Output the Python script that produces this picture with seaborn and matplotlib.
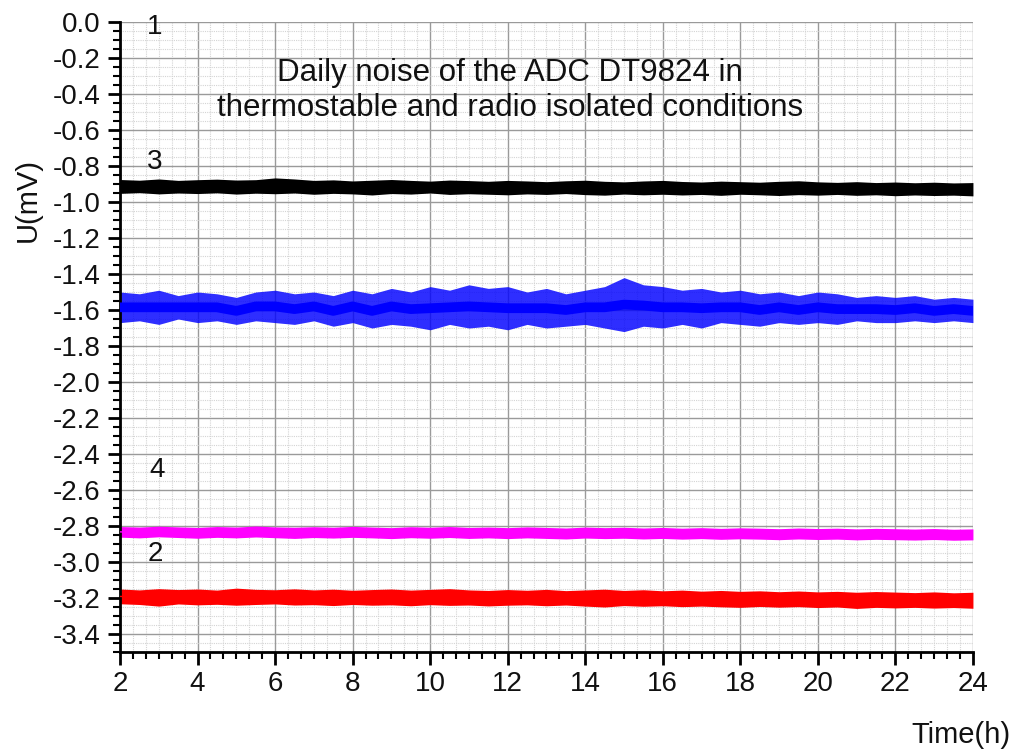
import numpy as np
import pandas as pd
import matplotlib
matplotlib.use("Agg")
import matplotlib.pyplot as plt
from matplotlib.ticker import AutoMinorLocator, FormatStrFormatter
import seaborn as sns

# ---------------- data ----------------
TIME_H = [2.0, 2.5, 3.0, 3.5, 4.0, 4.5, 5.0, 5.5, 6.0, 6.5,
          7.0, 7.5, 8.0, 8.5, 9.0, 9.5, 10.0, 10.5, 11.0, 11.5,
          12.0, 12.5, 13.0, 13.5, 14.0, 14.5, 15.0, 15.5, 16.0, 16.5,
          17.0, 17.5, 18.0, 18.5, 19.0, 19.5, 20.0, 20.5, 21.0, 21.5,
          22.0, 22.5, 23.0, 23.5, 24.0]

# curve 3 (black): upper / lower envelope of the noise band, mV
S3_TOP = [-0.875, -0.879, -0.872, -0.880, -0.876, -0.873, -0.878, -0.876, -0.866, -0.872,
          -0.880, -0.877, -0.883, -0.879, -0.875, -0.880, -0.884, -0.878, -0.881, -0.885,
          -0.880, -0.883, -0.887, -0.882, -0.879, -0.885, -0.888, -0.883, -0.880, -0.886,
          -0.889, -0.884, -0.887, -0.890, -0.885, -0.882, -0.888, -0.891, -0.887, -0.892,
          -0.889, -0.893, -0.890, -0.894, -0.892]
S3_BOT = [-0.952, -0.948, -0.955, -0.950, -0.953, -0.949, -0.956, -0.951, -0.954, -0.950,
          -0.957, -0.952, -0.955, -0.961, -0.953, -0.956, -0.950, -0.958, -0.954, -0.957,
          -0.960, -0.955, -0.958, -0.953, -0.959, -0.962, -0.956, -0.960, -0.957, -0.961,
          -0.958, -0.963, -0.957, -0.960, -0.964, -0.959, -0.962, -0.958, -0.963, -0.960,
          -0.965, -0.961, -0.964, -0.962, -0.966]

# blue curve (unnumbered)
SB_TOP = [-1.50, -1.51, -1.49, -1.52, -1.50, -1.51, -1.53, -1.50, -1.49, -1.51,
          -1.50, -1.52, -1.49, -1.51, -1.48, -1.50, -1.47, -1.49, -1.46, -1.48,
          -1.47, -1.50, -1.48, -1.51, -1.49, -1.47, -1.42, -1.46, -1.47, -1.49,
          -1.48, -1.50, -1.49, -1.51, -1.50, -1.52, -1.50, -1.51, -1.53, -1.52,
          -1.53, -1.52, -1.54, -1.53, -1.54]
SB_BOT = [-1.67, -1.66, -1.68, -1.65, -1.67, -1.66, -1.68, -1.66, -1.67, -1.68,
          -1.66, -1.69, -1.67, -1.70, -1.68, -1.69, -1.71, -1.68, -1.70, -1.69,
          -1.71, -1.68, -1.70, -1.69, -1.68, -1.70, -1.72, -1.69, -1.70, -1.68,
          -1.70, -1.67, -1.68, -1.69, -1.67, -1.68, -1.67, -1.68, -1.66, -1.67,
          -1.67, -1.66, -1.67, -1.66, -1.67]

# curve 4 (magenta)
S4_TOP = [-2.803, -2.806, -2.801, -2.805, -2.808, -2.803, -2.806, -2.800, -2.805, -2.807,
          -2.804, -2.807, -2.802, -2.806, -2.809, -2.804, -2.807, -2.803, -2.808, -2.806,
          -2.809, -2.805, -2.808, -2.811, -2.806, -2.809, -2.807, -2.811, -2.808, -2.812,
          -2.809, -2.813, -2.810, -2.812, -2.815, -2.811, -2.814, -2.812, -2.816, -2.813,
          -2.815, -2.817, -2.814, -2.818, -2.816]
S4_BOT = [-2.862, -2.866, -2.860, -2.864, -2.868, -2.863, -2.866, -2.861, -2.865, -2.869,
          -2.864, -2.867, -2.863, -2.866, -2.870, -2.865, -2.868, -2.864, -2.869, -2.866,
          -2.870, -2.866, -2.869, -2.872, -2.867, -2.870, -2.868, -2.872, -2.869, -2.873,
          -2.870, -2.874, -2.871, -2.873, -2.876, -2.872, -2.875, -2.873, -2.877, -2.874,
          -2.876, -2.878, -2.875, -2.879, -2.877]

# curve 2 (red)
S2_TOP = [-3.150, -3.155, -3.148, -3.153, -3.150, -3.156, -3.145, -3.152, -3.154, -3.149,
          -3.155, -3.151, -3.157, -3.153, -3.150, -3.156, -3.152, -3.148, -3.155, -3.158,
          -3.153, -3.157, -3.152, -3.159, -3.155, -3.151, -3.158, -3.154, -3.160, -3.156,
          -3.162, -3.158, -3.163, -3.160, -3.165, -3.161, -3.166, -3.163, -3.168, -3.164,
          -3.167, -3.170, -3.166, -3.171, -3.168]
S2_BOT = [-3.232, -3.236, -3.245, -3.233, -3.238, -3.235, -3.240, -3.236, -3.233, -3.239,
          -3.237, -3.242, -3.236, -3.240, -3.238, -3.243, -3.237, -3.241, -3.239, -3.244,
          -3.240, -3.238, -3.243, -3.239, -3.245, -3.250, -3.242, -3.246, -3.243, -3.248,
          -3.245, -3.249, -3.252, -3.247, -3.251, -3.248, -3.253, -3.250, -3.258, -3.252,
          -3.255, -3.252, -3.256, -3.253, -3.257]

X_TICKS = [2, 4, 6, 8, 10, 12, 14, 16, 18, 20, 22, 24]
Y_TICKS = [0.0, -0.2, -0.4, -0.6, -0.8, -1.0, -1.2, -1.4, -1.6, -1.8, -2.0,
           -2.2, -2.4, -2.6, -2.8, -3.0, -3.2, -3.4]

TITLE_LINES = ["Daily noise of the ADC DT9824 in",
               "thermostable and radio isolated conditions"]
CURVE_LABELS = ["1", "3", "4", "2"]

# ---------------- figure ----------------
sns.set_theme(style="white")
plt.rcParams["font.family"] = ["Liberation Sans", "DejaVu Sans"]
plt.rcParams["axes.unicode_minus"] = False

fig = plt.figure(figsize=(10.19, 7.51), dpi=100)
ax = fig.add_axes([0.1178, 0.1318, 0.8370, 0.8389])

series = [
    ("3", S3_TOP, S3_BOT, "#000000", 1.0, 1.0),
    ("b", SB_TOP, SB_BOT, "#0000ff", 0.82, 7.0),
    ("4", S4_TOP, S4_BOT, "#ff00ff", 1.0, 1.0),
    ("2", S2_TOP, S2_BOT, "#ff0000", 1.0, 1.0),
]
for name, top, bot, color, a, lw in series:
    df = pd.DataFrame({"t": TIME_H + TIME_H, "u": top + bot})
    sns.lineplot(data=df, x="t", y="u", ax=ax, color=color, linewidth=lw,
                 errorbar=("pi", 100), err_kws={"alpha": a, "linewidth": 0},
                 zorder=3)

ax.set_xlim(2, 24)
ax.set_ylim(-3.5, 0.0)
ax.set_xticks(X_TICKS)
ax.set_yticks(Y_TICKS)
ax.xaxis.set_minor_locator(AutoMinorLocator(6))
ax.yaxis.set_minor_locator(AutoMinorLocator(4))
ax.yaxis.set_major_formatter(FormatStrFormatter("%.1f"))
ax.set_xlabel("")
ax.set_ylabel("")

ax.grid(True, which="major", color="#9a9a9a", linewidth=1.0, zorder=0)
ax.grid(True, which="minor", color="#d4d4d4", linewidth=0.8,
        linestyle=(0, (1, 1)), zorder=0)
ax.set_axisbelow(True)

for s in ["top", "right"]:
    ax.spines[s].set_visible(False)
for s in ["left", "bottom"]:
    ax.spines[s].set_color("black")
    ax.spines[s].set_linewidth(2)

ax.tick_params(which="major", direction="out", length=9, width=2,
               color="black", labelsize=20, labelcolor="#111111",
               left=True, bottom=True)
ax.tick_params(axis="x", which="major", pad=5)
ax.tick_params(axis="y", which="major", pad=5)
ax.tick_params(which="minor", direction="out", length=5, width=1.5,
               color="black", left=True, bottom=True)

# annotations
ax.text(12.05, -0.283, TITLE_LINES[0], ha="center", va="center",
        fontsize=22.5, color="#111111")
ax.text(12.05, -0.478, TITLE_LINES[1], ha="center", va="center",
        fontsize=22.5, color="#111111")

label_pos = [(2.90, -0.03), (2.90, -0.778), (2.95, -2.49), (2.90, -2.954)]
for lab, (lx, ly) in zip(CURVE_LABELS, label_pos):
    ax.text(lx, ly, lab, ha="center", va="center", fontsize=20, color="#111111")

fig.text(28 / 1019, 1 - 200 / 751, "U(mV)", rotation=90, ha="center",
         va="center", fontsize=21, color="#111111")
fig.text(1010 / 1019, 1 - 735 / 751, "Time(h)", ha="right", va="center",
         fontsize=21, color="#111111")

fig.savefig("out.png", dpi=100)
